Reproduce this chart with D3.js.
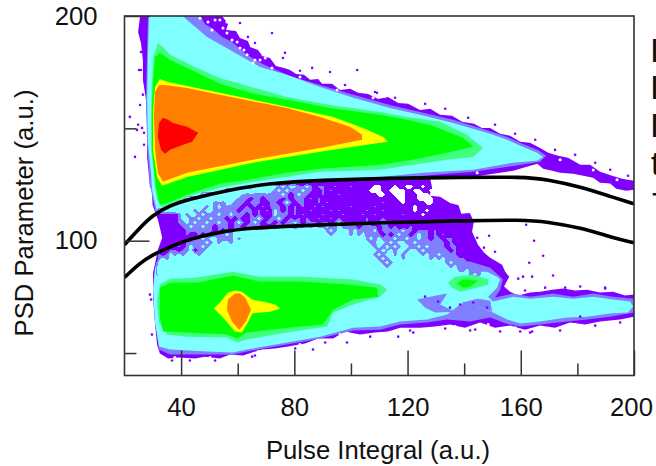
<!DOCTYPE html>
<html>
<head>
<meta charset="utf-8">
<script src="https://cdn.jsdelivr.net/npm/d3@7"></script>
<style>
  html, body { margin: 0; padding: 0; background: #fff; overflow: hidden; }
  text { font-family: "Liberation Sans", Arial, sans-serif; fill: #111; }
</style>
</head>
<body>
<div id="chart"></div>
<script>
////////////////////////////////////////////////////////////
//////////////////////// Data //////////////////////////////
////////////////////////////////////////////////////////////
// Contour outlines of the 2D histogram as [pulse integral, PSD] pairs
var outerLevel = [[25.5,200],[54.5,200],[56.6,196.4],[55.9,193.8],[59.4,193.3],[60.8,190.2],[63.6,188.9],[64.4,186.2],[67.2,184.9],[68.6,182.2],[71.4,181.3],[73.5,177.8],[76.4,176.9],[78.5,176],[80.6,174.2],[83.4,173.8],[85.6,171.6],[88.4,172],[89.8,169.8],[93.3,169.8],[96.2,167.1],[99.7,167.6],[102.5,165.8],[106.1,165.3],[109.6,163.1],[113.1,164],[116.7,161.3],[120.2,160.9],[124.4,158.2],[128,158.7],[131.5,156],[135.7,155.6],[139.3,152.9],[143.5,152],[146.3,150.2],[149.2,150.2],[152.7,147.6],[156.2,146.7],[159.8,144],[163.3,143.6],[166.8,141.3],[169.7,139.1],[173.2,137.8],[176.7,136.9],[181,133.8],[184.5,133.8],[188,130.7],[192.3,128.9],[195.8,127.6],[200,126.7],[200,122.7],[197.2,122.2],[193.7,123.1],[191.6,125.4],[188,125.8],[185.6,128],[178.5,129.8],[173.9,130.2],[171.1,131.1],[167.9,132],[165.8,134.2],[157.3,131.1],[145.6,128.9],[134,128],[128,127.6],[128.7,123.5],[127.7,120],[131.5,119.6],[135,116.8],[138,115.8],[139,112],[142,112.3],[143.4,108.4],[142.8,104],[144.9,98.2],[147,94.7],[149.2,92.4],[153.4,89.3],[154.5,86.2],[155.9,84],[154.1,79.6],[156.2,77.3],[159.1,75.6],[163.3,76.9],[166.8,77.3],[171.1,78.2],[175,78.7],[179.2,77.8],[183.4,78.2],[188,76.9],[192.6,77.3],[196.9,75.6],[200,76],[200,66.2],[195.1,64.9],[188,64],[182.7,62.7],[177.4,63.6],[172.1,61.3],[166.8,62.2],[161.5,60.4],[156.2,62.2],[150.9,61.3],[145.6,63.6],[140.3,61.3],[135,62.7],[129.7,61.8],[124.4,61.3],[117.4,61.3],[113.1,59.6],[108.5,59.1],[103.2,58.2],[97.9,59.6],[93.7,56.5],[88.4,56.5],[83.8,54.2],[77.8,52.9],[73.2,52],[68.6,51.6],[65.1,50.2],[61.9,48.9],[57.3,49.3],[53.7,47.6],[48.4,48.4],[44.9,47.6],[39.6,48],[35.4,47.6],[32.5,49.8],[31.5,53.8],[30.8,62.7],[30.1,75.1],[30.1,85.8],[31.1,91.6],[31.8,96],[33.3,101.3],[32.5,105.8],[31.8,109.3],[29.9,116],[29.7,122.7],[29,124],[28,137.3],[28,150.7],[27.6,162.7],[26.5,171.6],[26.5,180.4],[25.8,188],[24.8,192.9]];

var periUpper = [[28.3,200],[46.7,200],[48.4,196.4],[50.9,194.7],[54.5,190.7],[58,188.4],[62.9,183.1],[68.6,178.7],[78.5,173.3],[89.1,169.3],[100.8,164.9],[113.8,160.4],[124.4,157.3],[136.1,153.8],[145.6,150.2],[155.2,146.2],[160.5,143.1],[166.1,140.4],[169,137.8],[166.8,135.1],[158,133.3],[143.2,130.7],[125.5,128.9],[110.3,127.6],[89.1,126.2],[71.4,124.4],[59.8,122.7],[46.7,119.1],[37.8,115.6],[31.1,112],[29,124.9],[28,142.7],[27.6,162.7],[28,184.9]];
var periLower = [[30.8,89.3],[36.8,90.7],[46.7,92.5],[64.4,97.8],[82,101.3],[97.9,100.4],[103.9,91.6],[117.4,88],[131.5,90.2],[142.1,90.7],[149.2,88],[153,83.6],[153.7,82.7],[152.7,78.2],[150.9,74.7],[157.3,76.5],[163.3,75.1],[171.4,76.5],[178.5,75.1],[185.6,76.5],[192.6,75.1],[200,74.2],[200,68],[191.6,66.2],[183.4,64.9],[176.4,64],[166.8,62.7],[159.8,61.8],[154.5,63.2],[149.2,65.8],[142.1,64],[134,64.9],[126.9,63.6],[117.4,62.7],[110.3,60.4],[100.8,60],[89.1,56.5],[77.4,53.8],[63.3,50.7],[58.3,49.3],[49.2,49.3],[36.1,49.3],[32.2,51.6],[30.8,63.6],[30.1,78.2]];
var periPatchA = [[123.4,73.8],[128,75.1],[134,76.5],[131.5,71.6],[136.8,68.4],[129.7,68],[126.2,70.2]];
var periPatchB = [[139.3,72.5],[144.9,74.2],[149.2,73.3],[149.9,68.4],[144.6,70.7],[139.3,68.4]];

var cyanUpper = [[28.7,200],[40.7,200],[42.1,198.2],[49.2,190.7],[57.3,184.9],[67.9,177.3],[77.4,173.8],[89.1,168.4],[100.8,163.6],[113.8,159.1],[124.4,156],[136.1,152.4],[145.6,148.9],[149.2,147.6],[155.2,144.9],[159.8,142.2],[165.8,139.1],[167.9,137.3],[165.8,135.6],[157.3,134.7],[143.2,131.6],[125.5,130.2],[110.3,128.4],[89.1,127.1],[71.4,125.8],[59.8,124],[46.7,120],[37.8,116.5],[31.5,112.9],[29.7,122.7],[29.4,130.2],[28.3,143.6],[28,162.7],[28.3,184.9]];
var cyanLower = [[30.8,88],[36.8,89.8],[46.7,91.6],[64.4,96.9],[82,100.4],[97.9,99.6],[103.9,90.7],[117.4,87.1],[131.5,86.7],[142.1,86.2],[148.1,86.2],[151.6,84],[152.7,82.7],[151.6,79.1],[148.5,75.1],[150.2,72.9],[157.3,75.1],[163.3,74.2],[171.4,75.1],[178.5,74.2],[185.6,75.1],[192.6,73.8],[198.6,72.9],[199.7,70.7],[197.9,68],[191.6,67.6],[183.4,66.2],[176.4,65.8],[166.8,64],[159.8,63.1],[155.2,64.9],[150.2,68],[144.6,70.7],[138.6,71.6],[134,67.1],[126.9,64.9],[117.4,64],[110.3,61.8],[100.8,61.3],[89.1,57.3],[77.4,54.7],[63.3,51.6],[58.3,50.2],[49.2,50.7],[36.1,51.6],[32.2,52.9],[30.8,63.6],[30.1,78.2]];

var tealUpper = [[31.8,188],[33.6,186.2],[36.1,182.7],[44.9,177.3],[53.7,172.4],[66.1,168],[77.4,164],[92.6,160.4],[110.3,157.3],[119.8,155.1],[131.5,152.9],[141,147.1],[146.7,141.3],[143.2,137.3],[134,136],[122,133.8],[110.3,131.6],[89.1,130.7],[65.4,126.2],[53.7,123.5],[44.2,120.4],[33.3,114.7],[31.5,118.3],[30.8,124],[29.4,140.5],[29.4,158.2],[29.7,170.2],[30.1,181.8]];
var tealLower = [[32.5,80.5],[36.1,83.1],[45.6,83.6],[58.3,86.2],[67.9,84],[83.1,84],[100.8,82.7],[110.3,80.5],[112.8,78.2],[110.3,75.1],[100.8,71.6],[93.7,68],[91.6,61.8],[77.4,59.1],[63.3,56],[59.8,54.7],[56.2,56.9],[42.1,57.3],[35,58.2],[32.2,63.6],[31.5,72.5]];
var tealLump = [[134.3,81.3],[136.8,84],[143.2,84.9],[148.5,82.7],[148.5,80.5],[144.6,79.1],[138.6,77.3],[135.7,79.1]];

var greenUpper = [[32.5,183.6],[36.1,180.4],[42.1,176.9],[53.7,169.8],[66.1,165.3],[77.4,162.7],[92.6,159.1],[110.3,156],[119.8,153.8],[128,151.5],[139.6,145.8],[143.2,141.8],[134,139.1],[122,136],[110.3,133.8],[89.1,132],[77.4,130.2],[65.4,127.5],[53.7,125.3],[44.9,121.8],[36.1,117.3],[32.5,116],[31.1,124],[29.7,140.5],[29.7,158.2],[30.1,171.6],[30.8,181.8]];
var greenLower = [[32.5,79.1],[36.1,81.3],[45.6,81.3],[58.3,84.5],[67.9,81.8],[82,81.8],[98.6,80.5],[109.2,79.1],[109.6,75.1],[100.8,73.8],[93.7,69.3],[90.1,62.7],[77.4,61.3],[63.3,59.1],[59.8,56.5],[56.2,58.2],[42.1,59.1],[33.6,59.6],[32.5,66.2]];
var greenLump = [[137.5,80.9],[139.6,82.7],[144.9,82.2],[142.1,79.6],[139.6,79.1]];

var yellowUpper = [[32.5,172],[35,170.7],[42.1,168.9],[53.7,165.8],[77.4,159.6],[93.7,155.1],[104.3,150.2],[111.4,146.2],[113.1,144],[110.3,143.6],[100.8,141.8],[89.1,139.6],[65.4,134.7],[42.1,128.4],[33.3,124.5],[31.5,128.4],[30.1,140.5],[30.1,158.2],[30.8,168.4]];
var yellowLower = [[59,77.8],[56.6,76.9],[53.7,72.5],[51.6,69.8],[54.8,65.8],[59,59.6],[61.5,59.1],[63.6,63.6],[65.1,67.6],[71.4,68.4],[75,69.8],[73.2,71.6],[70.4,72.5],[65.1,73.8],[61.5,77.3]];

var orangeUpper = [[32.2,169.3],[34.3,169.3],[42.1,168],[53.7,164.9],[77.4,159.1],[89.1,155.1],[99.7,150.7],[103.9,147.1],[103.9,144.9],[98.6,143.6],[89.1,141.3],[65.4,136],[42.1,130.2],[33.6,126.2],[31.8,130.2],[30.8,140.5],[30.4,155.1],[30.8,166.2]];
var orangeLower = [[59,76.5],[56.6,73.8],[56.2,69.3],[58,64],[60.5,60.4],[62.9,64],[64.7,69.3],[62.6,74.7],[60.8,76.5]];

var redUpper = [[33.6,154.7],[32.2,152.4],[31.8,146.2],[32.9,140.5],[34.3,138.7],[36.1,140.5],[40.7,142.7],[43.9,144],[46,148],[42.1,150.7],[37.1,152.4],[35.4,153.8]];

// The mottled part between the two bands, estimated cell by cell: 0 empty, 3 outer level,
// 5 second level, 9 third level. Cell centres start at PI 30.8 / PSD 125.8
var midStartX = 30.8, midStartY = 125.8, midStepX = 1.414, midStepY = 1.778;
var midBand = [
  "3333333333 3333333333 3333333333 3333333333 3333333333 3333333333 3333333333 3333333333 33",
  "3333333333 3333333333 3333399999 8585875585 3553353335 3333300333 0330033033 3333333333 33",
  "3333333333 3333333399 9999999988 5858555855 3353533333 3333000330 0003300330 3333333333 33",
  "3333333333 3399999999 9965655565 5585358553 3353335333 3333330033 0003330003 3333333333 33",
  "3333333399 9999999998 8565355355 5535355535 3533333333 3333333333 3003330000 3333333333 33",
  "3333399999 9998856588 5553565335 5358535533 3535333333 3333333533 3303333300 3333333333 33",
  "3339999999 8885858565 6535353535 5535353533 5353333335 3333353333 3333303333 3333333333 33",
  "3899999988 5858856556 5355535353 8535353335 3333535333 3335333533 3333303303 3333333333 33",
  "3333335858 8585558558 5553535333 8555353533 3353333533 3353353333 3353333033 3333333333 33",
  "3333335885 5855855535 3533558535 5853535353 3533535333 3335333533 3333333333 3333333333 33",
  "3333335585 8558558553 5853585355 3535585355 5355358553 5535335553 3335335333 3333333333 33",
  "3333333558 5585535553 5535535333 5858535585 8558558555 5355553553 5333533333 3333333333 33",
  "3333333355 5555535353 9989999999 9999999989 8995859885 8565583555 5585535553 5333333333 33",
  "3333333353 3535355585 8999999999 9999999999 9998599985 8585655353 5855358553 5353333333 33",
  "3333333333 5585885555 8589999999 9999999999 9999999989 8995858565 8558558553 5535533333 33",
  "3333333355 5558585885 9989999999 9999999999 9999999999 9998568858 5885585555 5553533333 33",
  "3333335358 5585898999 9999899999 9999999999 9999999999 9989858585 8588558585 5553553333 33",
  "3333553558 3558889999 9999999999 9999999999 9999999999 9998985868 5885885855 5555353333 33",
  "3535858588 8588999999 9999999999 9999999999 9999999999 9999858589 5858898585 5855553333 33",
  "3585988999 9999999999 9999999999 9999999999 9999999999 9999985858 8958899885 8585555533 33",
  "3899899999 9999999999 9999999999 9999999999 9999999999 9999998585 8899989989 9885855553 33",
  "3999999999 9999999999 9999999999 9999999999 9999999999 9999999858 9899999999 9998585555 53",
  "3999999999 9999999999 9999999999 9999999999 9999999999 9999999989 9999999999 9999895585 55",
  "3999999999 9999999999 9999999999 9999999999 9999999999 9999999999 9999999999 9999999985 85"
];

// Stray bins outside the contours and empty bins inside them
var strayBins = [[72.1,192.4],[60.8,196.9],[63.6,190.7],[66.1,188],[59.1,192.4],[76.7,183.6],[76,181.3],[67.9,182.7],[86.3,176.9],[92.6,175.1],[102.2,176],[109.2,165.8],[21.9,155.1],[23.7,137.3],[26.2,150.2],[24.4,149.3],[26.9,148],[24.8,151.6],[25.8,176],[25.5,160.4],[161.9,107.1],[164.7,100],[167.9,93.3],[163,90.2],[171.4,84.5],[160.8,84],[164,84],[150.9,95.1],[148.8,102.2],[147,96.9],[144.6,101.3],[159.1,83.1],[189.8,79.1],[175.7,79.1],[65.1,48.4],[86.6,51.6],[98.6,54.7],[122,59.1],[116.7,57.3],[143.9,60.5],[159.8,59.6],[168.6,61.3],[164,59.6],[29,76],[130.8,72.9],[143.2,72.5],[148.1,70.2],[138.6,71.6],[126.2,75.1],[181,66.2],[135,70.2],
  [82,175.6],[97.9,169.3],[108.5,166.2],[115.6,163.6],[126.2,160.9],[133.3,158.7],[141.4,154.7],[150.9,151.6],[158,147.6],[165.1,144.9],[172.1,140.4],[179.2,138.2],[186.3,134.7],[191.6,131.6],[197.9,128.9],
  [195.1,63.6],[186.3,62.2],[173.9,60],[163.3,59.1],[152.7,59.6],[142.1,60],[133.3,60.9],[120.9,60],[106.8,57.3],[90.9,54.7],[80.3,52],[66.1,48.9],[52,46.7],[43.1,46.7],[36.8,46.7],
  [168.6,79.1],[181,79.6],[189.8,78.7],[161.5,77.8],[25.8,184],[25.1,176],[26.5,165],[26.9,142.7],[29.4,73.8],[29.7,58.2]];
var emptyBins = [[46.7,199],[49.5,197.3],[53.7,198.2],[56.2,197.3],[50.9,193.8],[56.2,192.4],[59.8,188.4],[54.8,194.7],[67.9,180.4],[69.7,181.3],[65.4,179.1],[63.3,182.7],[60.8,185.8],[72.1,176.9],[82,172.9],[95.1,167.1],[107.8,163.6],[185.6,131.5],[194,127.1],[144.6,130.2],[173.9,136],
  [85.6,173.3],[94.4,170.2],[103.9,167.1],[112.1,164.4],[121.6,161.3],[130.1,158.7],[137.9,155.6],[154.5,148.4],[161.5,145.3],[171.1,140.4],[182.7,135.6],[189.5,131.6],
  [179.2,62.7],[168.6,61.3],[158,61.3],[148.5,62.7],[136.8,61.8],[96.2,58.2],[82,53.8],[67.2,50.7],[50.2,48],[37.8,48],
  [58,189.3],[52,198.2],[62.2,184.9],[66.1,180.4],[75.7,178.2],[65.1,187.1]];

// Black discrimination curves
var curveUpperX = [20,24.8,30,36.1,42.1,57.3,71.4,89.1,113.8,138.6,160.8,169.3,181,192.6,200];
var curveUpperY = [98.2,104.9,111.5,115.6,118.2,122.7,125.6,126.9,127.8,128.2,128.4,127.3,124,119.3,116.4];
var curveLowerX = [20,25.5,30.1,36.1,42.1,53.7,65.4,89.1,113.8,138.6,160.8,169.3,181,192.6,200];
var curveLowerY = [83.6,90.2,93.8,97.3,100.4,104,105.8,107.1,108.1,108.9,109.3,108.4,105.8,101.3,99.1];

var xMajor = [40,80,120,160,200], xMinor = [60,100,140,180];
var yMajor = [100,200], yMinor = [50,150];
var sideLabels = ["I","I","I","t","T"];

////////////////////////////////////////////////////////////
//////////////////////// Set-Up ////////////////////////////
////////////////////////////////////////////////////////////
var width = 656, height = 466;
var x = d3.scaleLinear().domain([20,200]).range([124.5,634]);
var y = d3.scaleLinear().domain([40,200]).range([375.5,16]);

var colors = {
  purple: "#7f00ff", peri: "#7f7fff", cyan: "#7fffff", teal: "#3fff7f",
  green: "#00ff00", yellow: "#ffff00", orange: "#ff7f00", red: "#ff0000"
};

var svg = d3.select("#chart").append("svg")
  .attr("width", width)
  .attr("height", height)
  .style("display", "block");

svg.append("clipPath").attr("id", "plot-clip").append("rect")
  .attr("x", x(20)).attr("y", y(200))
  .attr("width", x(200) - x(20)).attr("height", y(40) - y(200));

var plot = svg.append("g").attr("clip-path", "url(#plot-clip)");

var outline = d3.line().x(function(d) { return x(d[0]); }).y(function(d) { return y(d[1]); });

function fillLevel(points, color) {
  plot.append("path").attr("d", outline(points) + "Z").attr("fill", color);
}

////////////////////////////////////////////////////////////
///////////////// Contour levels ///////////////////////////
////////////////////////////////////////////////////////////
fillLevel(outerLevel, colors.purple);
fillLevel(periUpper, colors.peri);
fillLevel(periLower, colors.peri);
fillLevel(cyanUpper, colors.cyan);
fillLevel(cyanLower, colors.cyan);

// mottled band goes through d3.contours so the blobs come out with their rims
var midRows = midBand.map(function(row) { return row.replace(/ /g, ""); });
var nx = midRows[0].length, ny = midRows.length;
var midValues = [];
midRows.forEach(function(row) {
  row.split("").forEach(function(c) { midValues.push(+c); });
});
var midPath = d3.geoPath(d3.geoTransform({
  point: function(gx, gy) {
    this.stream.point(x(midStartX + (gx - 0.5) * midStepX), y(midStartY - (gy - 0.5) * midStepY));
  }
}));
function midContour(values, threshold, color) {
  var c = d3.contours().size([nx, ny]).smooth(true).thresholds([threshold])(values);
  // crisp edges: the band is blocky in the original, and no seam shows at the grid border
  plot.append("path").attr("d", midPath(c[0])).attr("fill", color).attr("shape-rendering", "crispEdges");
}
midContour(midValues, 4.5, colors.peri);
midContour(midValues, 6.5, colors.cyan);
midContour(midValues.map(function(v) { return -v; }), -1.5, "#fff");

fillLevel(periPatchA, colors.peri);
fillLevel(periPatchB, colors.peri);

plot.selectAll("circle.stray").data(strayBins).enter().append("circle")
  .attr("class", "stray")
  .attr("cx", function(d) { return x(d[0]); })
  .attr("cy", function(d) { return y(d[1]); })
  .attr("r", 1.3)
  .attr("fill", colors.purple);

plot.selectAll("circle.empty").data(emptyBins).enter().append("circle")
  .attr("class", "empty")
  .attr("cx", function(d) { return x(d[0]); })
  .attr("cy", function(d) { return y(d[1]); })
  .attr("r", 1.5)
  .attr("fill", "#fff");

fillLevel(tealUpper, colors.teal);
fillLevel(tealLower, colors.teal);
fillLevel(tealLump, colors.teal);
fillLevel(greenUpper, colors.green);
fillLevel(greenLower, colors.green);
fillLevel(greenLump, colors.green);
fillLevel(yellowUpper, colors.yellow);
fillLevel(yellowLower, colors.yellow);
fillLevel(orangeUpper, colors.orange);
fillLevel(orangeLower, colors.orange);
fillLevel(redUpper, colors.red);

////////////////////////////////////////////////////////////
///////////////// Black curves /////////////////////////////
////////////////////////////////////////////////////////////
var curve = d3.line()
  .x(function(d) { return x(d[0]); })
  .y(function(d) { return y(d[1]); })
  .curve(d3.curveBasis);

[d3.zip(curveUpperX, curveUpperY), d3.zip(curveLowerX, curveLowerY)].forEach(function(pts) {
  plot.append("path")
    .attr("d", curve(pts))
    .attr("fill", "none")
    .attr("stroke", "#000")
    .attr("stroke-width", 3.6);
});

////////////////////////////////////////////////////////////
///////////////// Axes and labels //////////////////////////
////////////////////////////////////////////////////////////
var fontSize = 25.7;

function styleAxis(g) {
  g.select(".domain").remove();
  g.selectAll(".tick line").attr("stroke", "#333").attr("stroke-width", 1.5);
  g.selectAll(".tick text").attr("font-size", fontSize).attr("fill", "#111")
    .style("font-family", '"Liberation Sans", Arial, sans-serif');
}

var xAxisMajor = svg.append("g").attr("transform", "translate(0," + y(40) + ")")
  .call(d3.axisBottom(x).tickValues(xMajor).tickFormat(d3.format("d")).tickSizeInner(-25).tickSizeOuter(0).tickPadding(22))
  .call(styleAxis);
// last label sits a little left of its tick
xAxisMajor.selectAll(".tick text").filter(function(d) { return d === 200; }).attr("dx", -3);

svg.append("g").attr("transform", "translate(0," + y(40) + ")")
  .call(d3.axisBottom(x).tickValues(xMinor).tickFormat("").tickSizeInner(-12).tickSizeOuter(0))
  .call(styleAxis);
svg.append("g").attr("transform", "translate(" + x(20) + ",0)")
  .call(d3.axisLeft(y).tickValues(yMajor).tickFormat(d3.format("d")).tickSizeInner(-25).tickSizeOuter(0).tickPadding(27))
  .call(styleAxis);
svg.append("g").attr("transform", "translate(" + x(20) + ",0)")
  .call(d3.axisLeft(y).tickValues(yMinor).tickFormat("").tickSizeInner(-12).tickSizeOuter(0))
  .call(styleAxis);

svg.append("rect")
  .attr("x", x(20)).attr("y", y(200))
  .attr("width", x(200) - x(20)).attr("height", y(40) - y(200))
  .attr("fill", "none")
  .attr("stroke", "#333")
  .attr("stroke-width", 1.6);

svg.append("text")
  .attr("x", 378).attr("y", 459)
  .attr("text-anchor", "middle")
  .attr("font-size", fontSize)
  .text("Pulse Integral (a.u.)");

svg.append("text")
  .attr("transform", "translate(33,213) rotate(-90)")
  .attr("text-anchor", "middle")
  .attr("font-size", fontSize)
  .text("PSD Parameter (a.u.)");

// text of the next panel, cut off by the edge of the picture
var sideX = [650,650,650,651,652], sideY = [62,99,137,175,216];
svg.selectAll("text.side").data(sideLabels).enter().append("text")
  .attr("class", "side")
  .attr("x", function(d, i) { return sideX[i]; })
  .attr("y", function(d, i) { return sideY[i]; })
  .attr("font-size", 33)
  .text(function(d) { return d; });
</script>
</body>
</html>
